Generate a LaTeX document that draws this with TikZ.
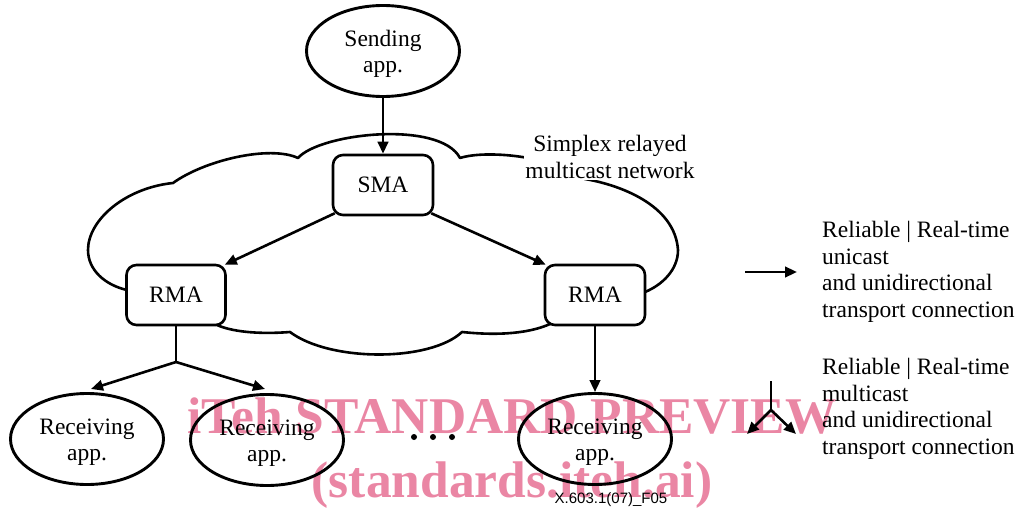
\documentclass[tikz,border=0pt]{standalone}
\usepackage{fontspec}
\setmainfont{Liberation Serif}
\newfontfamily\figsans{Liberation Sans}
\usetikzlibrary{arrows.meta,shapes.geometric,calc}
\definecolor{wmpink}{RGB}{234,134,164}
\tikzset{
  wire/.style={line width=2.6pt},
  conn/.style={wire,-{Triangle[length=12pt,width=10.5pt]}},
  appnode/.style={ellipse,draw,line width=2.9pt,minimum width=153pt,minimum height=91pt,inner sep=0pt,
    label={[align=center,inner sep=0pt,yshift=-3pt]center:#1}},
  agent/.style={rectangle,rounded corners=10pt,draw,line width=2.6pt,fill=white,minimum width=100pt,minimum height=60pt,inner sep=0pt},
  legendtext/.style={anchor=west,align=left,inner sep=0pt},
  stamp/.style={text=wmpink,font=\fontsize{51.5}{51.5}\selectfont\bfseries,inner sep=0pt},
  dot/.style={circle,fill=black,inner sep=0pt,minimum size=6pt}
}
\begin{document}
\begin{tikzpicture}[x=1pt,y=-1pt,font=\fontsize{23.5}{26.5}\selectfont]
\useasboundingbox (0,0) rectangle (1020,508);

% preview stamp
\node[stamp,anchor=base west] (stamp1) at (187,433) {iTeh STANDARD PREVIEW};
\node[stamp,anchor=base] (stamp2) at (512,497) {(standards.iteh.ai)};

% network cloud
\draw[wire,line join=round]
  (127,290) .. controls (105,285) and (88,270) .. (88,250)
  .. controls (88,220) and (125,188) .. (173,183)
  .. controls (205,160) and (270,145) .. (298,158)
  .. controls (320,133) and (440,120) .. (460,158)
  .. controls (485,150) and (550,155) .. (585,179)
  .. controls (620,185) and (675,205) .. (678,250)
  .. controls (678,270) and (662,285) .. (645,292)
  -- (550,324)
  .. controls (530,333) and (500,336) .. (462,332)
  .. controls (430,362) and (330,362) .. (290,332)
  .. controls (265,334) and (235,333) .. (217,325)
  -- cycle;

\node[fill=white,inner sep=1pt,align=center] (netlabel) at (610,157) {Simplex relayed\\multicast network};

% applications and agents
\node[appnode={Sending\\app.}] (send) at (383,51) {};
\node[agent] (sma) at (383,185) {SMA};
\node[agent,minimum width=99pt] (rmaL) at (176,295) {RMA};
\node[agent] (rmaR) at (595,295) {RMA};
\node[appnode={Receiving\\app.}] (rec1) at (87,439) {};
\node[appnode={Receiving\\app.}] (rec2) at (267,440) {};
\node[appnode={Receiving\\app.}] (rec3) at (595,439) {};

\node[dot] (d1) at (414,437) {};
\node[dot] (d2) at (433,437) {};
\node[dot] (d3) at (452,437) {};

% connections
\draw[conn] (send) -- (sma);
\draw[conn] ($(sma.south west)+(3,-3)$) -- ($(rmaL.north east)+(-2,1)$);
\draw[conn] ($(sma.south east)+(-3,-3)$) -- ($(rmaR.north west)+(2,1)$);
\coordinate (fork) at (176,362);
\coordinate (tip1) at (91,389);
\coordinate (tip2) at (265,389);
\draw[wire] (rmaL.south) -- (fork);
\draw[conn] (fork) -- (tip1);
\draw[conn] (fork) -- (tip2);
\draw[conn] (rmaR.south) -- (rec3.north);

% legend
\coordinate (uniA) at (745,272);
\coordinate (uniB) at (797,272);
\draw[conn] (uniA) -- (uniB);
\node[legendtext] (unitext) at (822,272) {Reliable | Real-time\\unicast\\and unidirectional\\transport connection};

\coordinate (mcTop) at (771,381);
\coordinate (mcFork) at (771,410);
\coordinate (mcL) at (747,434);
\coordinate (mcR) at (796,434);
\draw[wire] (mcTop) -- (mcFork);
\draw[conn] (mcFork) -- (mcL);
\draw[conn] (mcFork) -- (mcR);
\node[legendtext] (mctext) at (822,409) {Reliable | Real-time\\multicast\\and unidirectional\\transport connection};

% figure number
\node[font=\figsans\fontsize{15}{15}\selectfont,anchor=base,inner sep=0pt] (figno) at (611,503) {X.603.1(07)\_F05};
\end{tikzpicture}
\end{document}
